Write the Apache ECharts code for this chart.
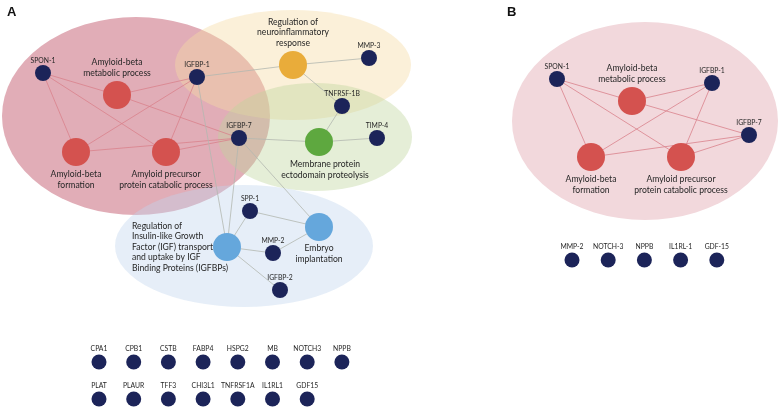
<!DOCTYPE html>
<html>
<head>
<meta charset="utf-8">
<script src="https://cdn.jsdelivr.net/npm/echarts@6/dist/echarts.min.js"></script>
<style>html,body{margin:0;padding:0;background:#fff}#c{width:780px;height:409px}</style>
</head>
<body>
<div id="c"></div>
<script>
// ---------- DATA ----------
// Panel A: gene nodes in the network
const genesA  = ['SPON-1','IGFBP-1','IGFBP-7','MMP-3','TNFRSF-1B','TIMP-4','SPP-1','MMP-2','IGFBP-2'];
const genesAX = [43, 197, 239, 369, 342, 377, 250, 273, 280];
const genesAY = [73, 77, 138, 58, 106, 138, 211, 253, 290];
// Panel A: enriched terms
const termsA  = ['metab','form','app','neuro','memb','igf','embryo'];
const termsALabel = [
  'Amyloid-beta\nmetabolic process',
  'Amyloid-beta\nformation',
  'Amyloid precursor\nprotein catabolic process',
  'Regulation of\nneuroinflammatory\nresponse',
  'Membrane protein\nectodomain proteolysis',
  'Regulation of\nInsulin-like Growth\nFactor (IGF) transport\nand uptake by IGF\nBinding Proteins (IGFBPs)',
  'Embryo\nimplantation'
];
const termsAX = [117, 76, 166, 293, 319, 227, 319];
const termsAY = [95, 152, 152, 65, 142, 247, 227];
const termsAGroup = ['amyloid','amyloid','amyloid','neuro','memb','igf','igf'];
const linksA = [
  ['SPON-1','metab'],['SPON-1','form'],['SPON-1','app'],
  ['IGFBP-1','metab'],['IGFBP-1','form'],['IGFBP-1','app'],
  ['IGFBP-7','metab'],['IGFBP-7','form'],['IGFBP-7','app'],
  ['IGFBP-1','neuro'],['neuro','MMP-3'],['neuro','TNFRSF-1B'],
  ['TNFRSF-1B','memb'],['memb','TIMP-4'],['IGFBP-7','memb'],
  ['IGFBP-1','igf'],['IGFBP-7','igf'],['IGFBP-7','embryo'],
  ['SPP-1','igf'],['SPP-1','embryo'],['igf','MMP-2'],['MMP-2','embryo'],['igf','IGFBP-2']
];
// Panel A: unconnected proteins (two rows)
const unlinkedA1 = ['CPA1','CPB1','CSTB','FABP4','HSPG2','MB','NOTCH3','NPPB'];
const unlinkedA2 = ['PLAT','PLAUR','TFF3','CHI3L1','TNFRSF1A','IL1RL1','GDF15'];

// Panel B
const genesB  = ['SPON-1','IGFBP-1','IGFBP-7'];
const genesBX = [557, 712, 749];
const genesBY = [79, 83, 135];
const termsB  = ['metab','form','app'];
const termsBLabel = ['Amyloid-beta\nmetabolic process','Amyloid-beta\nformation','Amyloid precursor\nprotein catabolic process'];
const termsBX = [632, 591, 681];
const termsBY = [101, 157, 157];
const linksB = [
  ['SPON-1','metab'],['SPON-1','form'],['SPON-1','app'],
  ['IGFBP-1','metab'],['IGFBP-1','form'],['IGFBP-1','app'],
  ['IGFBP-7','metab'],['IGFBP-7','form'],['IGFBP-7','app']
];
const unlinkedB = ['MMP-2','NOTCH-3','NPPB','IL1RL-1','GDF-15'];

// ---------- STYLE / LAYOUT ----------
const FONT = 'Lato, "Open Sans", sans-serif';
const NAVY = '#1c2459';
const groupColor = {amyloid:'#d4524f', neuro:'#e9ac3a', memb:'#5ea83f', igf:'#65a7dc'};
const TXT = '#262626';

const geneLabel = {show:true, position:'top', distance:1, fontSize:6.8, color:TXT, fontFamily:FONT};
const termLabelBase = {show:true, fontSize:8.6, lineHeight:10.5, color:TXT, fontFamily:FONT};
const termLabelPos = {
  metab:{position:'top', distance:3},
  form:{position:'bottom', distance:3},
  app:{position:'bottom', distance:3},
  neuro:{position:'top', distance:3},
  memb:{position:'bottom', distance:3, offset:[6,0]},
  igf:{position:[-81,14], align:'left', verticalAlign:'middle'},
  embryo:{position:'bottom', distance:2}
};

// background ellipses [cx, cy, rx, ry, color]
const ellipses = [
  [136,116,134,99,'#e1adb7'],
  [293,65,118,55,'rgba(245,220,165,0.42)'],
  [315,137,97,54,'rgba(190,212,155,0.40)'],
  [244,246,129,61,'rgba(192,212,237,0.40)'],
  [645,121,133,99,'#f2d8dc']
];

function buildNodes(genes, gx, gy, terms, tl, tx, ty, tg) {
  const nodes = [];
  genes.forEach((g,i)=>nodes.push({
    name:g, value:[gx[i],gy[i]], symbolSize:16,
    itemStyle:{color:NAVY, opacity:1}, label:geneLabel
  }));
  terms.forEach((t,i)=>nodes.push({
    name:t, value:[tx[i],ty[i]], symbolSize:28,
    itemStyle:{color:groupColor[tg[i]], opacity:1},
    label:Object.assign({}, termLabelBase, termLabelPos[t], {formatter:tl[i]})
  }));
  return nodes;
}
const amyloidSet = new Set(['metab','form','app']);
function buildLinks(links){
  return links.map(([s,t])=>({
    source:s, target:t,
    lineStyle:{color:(amyloidSet.has(s)||amyloidSet.has(t)) ? '#d9818b' : '#b3b7b0', width:0.8, opacity:1, curveness:0}
  }));
}

const nodesA = buildNodes(genesA, genesAX, genesAY, termsA, termsALabel, termsAX, termsAY, termsAGroup);
const nodesB = buildNodes(genesB, genesBX, genesBY, termsB, termsBLabel, termsBX, termsBY, ['amyloid','amyloid','amyloid']);

const unl = [];
unlinkedA1.forEach((n,i)=>unl.push({name:n, value:[99+34.7*i, 362]}));
unlinkedA2.forEach((n,i)=>unl.push({name:n+' ', value:[99+34.7*i, 399], lbl:n}));
unlinkedB.forEach((n,i)=>unl.push({name:'B_'+n, value:[572+36.2*i, 260], lbl:n}));

const chart = echarts.init(document.getElementById('c'), null, {renderer:'canvas'});
chart.setOption({
  animation:false,
  backgroundColor:'#ffffff',
  title:[
    {text:'A', left:2, top:1, textStyle:{fontSize:13, fontWeight:'bold', color:'#111', fontFamily:'Liberation Sans, Arial, sans-serif'}},
    {text:'B', left:502, top:1, textStyle:{fontSize:13, fontWeight:'bold', color:'#111', fontFamily:'Liberation Sans, Arial, sans-serif'}}
  ],
  grid:{left:0, right:0, top:0, bottom:0},
  xAxis:{type:'value', min:0, max:780, show:false},
  yAxis:{type:'value', min:0, max:409, inverse:true, show:false},
  series:[
    {
      type:'scatter', silent:true, z:1,
      data:ellipses.map(e=>({value:[e[0],e[1]], symbolSize:[2*e[2],2*e[3]], itemStyle:{color:e[4], opacity:1}})),
      symbol:'circle'
    },
    {
      type:'graph', layout:'none', coordinateSystem:'cartesian2d', z:5, silent:true,
      data:nodesA, links:buildLinks(linksA), edgeSymbol:['none','none']
    },
    {
      type:'graph', layout:'none', coordinateSystem:'cartesian2d', z:5, silent:true,
      data:nodesB, links:buildLinks(linksB)
    },
    {
      type:'scatter', z:5, silent:true, symbolSize:15,
      itemStyle:{color:NAVY, opacity:1},
      label:{show:true, position:'top', distance:2, fontSize:6.8, color:TXT, fontFamily:FONT,
        formatter:p=>p.data.lbl || p.name},
      data:unl
    }
  ]
});
</script>
</body>
</html>
